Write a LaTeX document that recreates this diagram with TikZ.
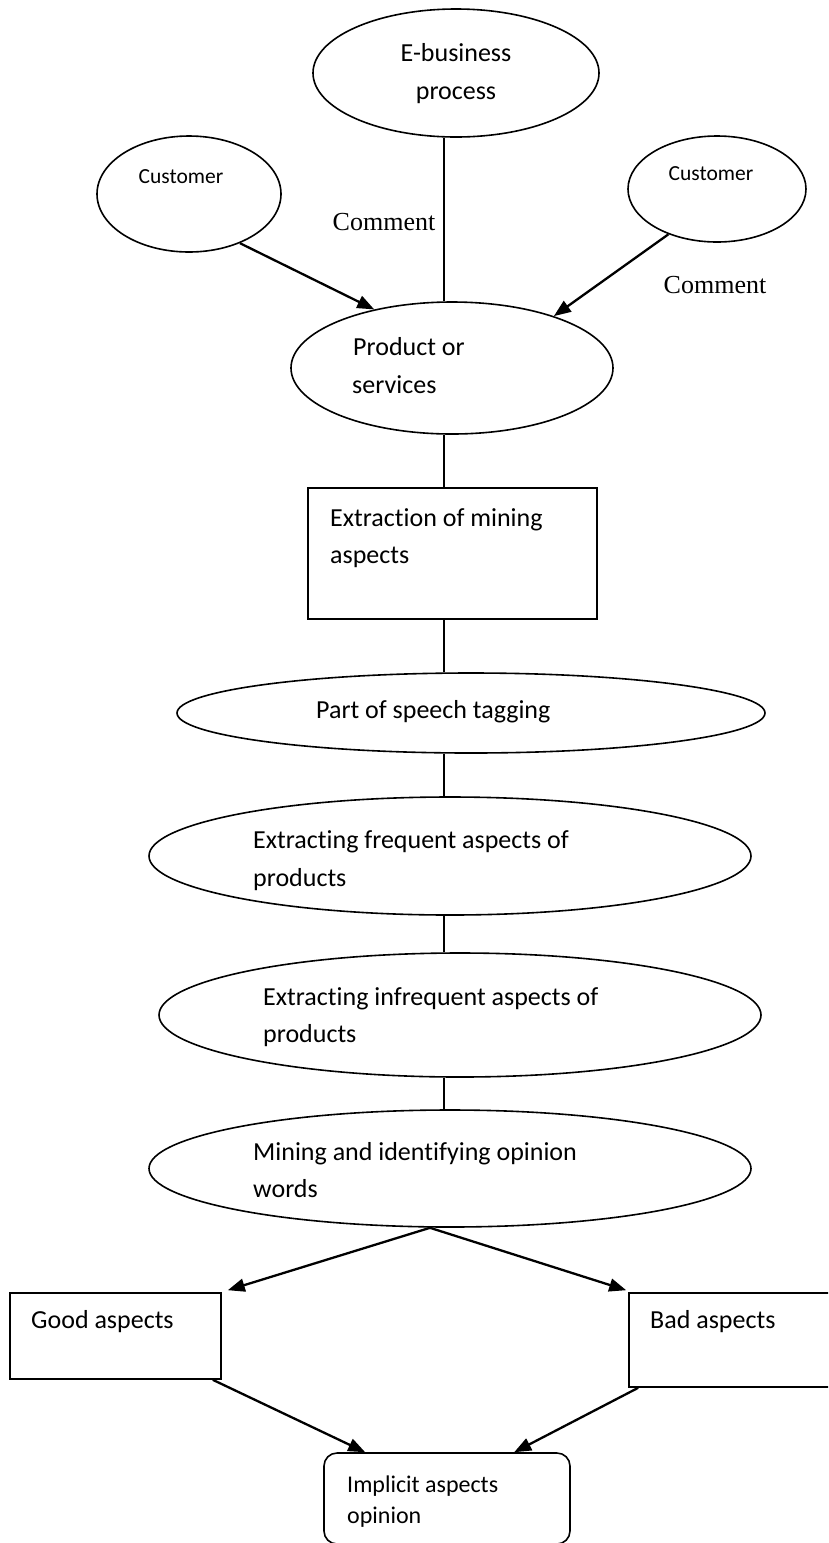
\documentclass[tikz,border=0pt]{standalone}
\usepackage{fontspec}
\setmainfont{Carlito}[Ligatures=NoCommon]
\newfontfamily\cmtfont{Liberation Serif}
\usetikzlibrary{shapes.geometric,arrows.meta,calc}
\begin{document}
\begin{tikzpicture}[x=1pt,y=-1pt,
  shp/.style={draw=black, line width=1.6pt, inner sep=0pt},
  ell/.style={shp, ellipse},
  box/.style={shp, rectangle},
  conn/.style={draw=black, line width=1.3pt},
  arr/.style={draw=black, line width=2.3pt, -{Triangle[length=17pt,width=13pt]}},
  lbl/.style={inner sep=0pt, anchor=base west, font=\fontsize{26}{31}\selectfont},
  clbl/.style={inner sep=0pt, anchor=base, font=\fontsize{26}{31}\selectfont},
  cust/.style={inner sep=0pt, anchor=base, font=\fontsize{21.5}{26}\selectfont},
  cmt/.style={inner sep=0pt, anchor=base, font=\cmtfont\fontsize{26}{31}\selectfont},
  small/.style={inner sep=0pt, anchor=base west, font=\fontsize{24}{29}\selectfont}]
\useasboundingbox (0,0) rectangle (828,1543);
\clip (0,0) rectangle (828,1543);
\fill[white] (0,0) rectangle (828,1543);

% shapes
\node[ell, minimum width=286pt, minimum height=128pt] (eb) at (456,73) {};
\node[ell, minimum width=184pt, minimum height=116pt] (lc) at (189,194) {};
\node[ell, minimum width=178pt, minimum height=106pt] (rc) at (717,189) {};
\node[ell, minimum width=322pt, minimum height=132pt] (pr) at (452,368) {};
\node[box, minimum width=289pt, minimum height=131pt] (ex) at (452.5,553.5) {};
\node[ell, minimum width=588pt, minimum height=80pt] (ps) at (471,713) {};
\node[ell, minimum width=602pt, minimum height=118pt] (fr) at (450,856) {};
\node[ell, minimum width=602pt, minimum height=124pt] (inf) at (460,1015) {};
\node[ell, minimum width=602pt, minimum height=117pt] (mi) at (450,1168.5) {};
\node[box, minimum width=211pt, minimum height=86pt] (gd) at (115.5,1336) {};
\node[box, minimum width=211pt, minimum height=94pt] (bd) at (734.5,1340) {};
\node[box, rounded corners=13pt, minimum width=246pt, minimum height=91pt] (im) at (447,1498.5) {};

% texts
\node[clbl] (t1a) at (456,61) {E-business};
\node[clbl] (t1b) at (456,99) {process};
\node[cust] (t2) at (181,183) {Customer};
\node[cust] (t3) at (711,180) {Customer};
\node[cmt] (c1) at (384,230) {Comment};
\node[cmt] (c2) at (715,293) {Comment};
\node[lbl] (t4a) at (353,355) {Product or};
\node[lbl] (t4b) at (352,393) {services};
\node[lbl] (t5a) at (330,526) {Extraction of mining};
\node[lbl] (t5b) at (330,563) {aspects};
\node[lbl] (t6) at (316,718) {Part of speech tagging};
\node[lbl] (t7a) at (253,848) {Extracting frequent aspects of};
\node[lbl] (t7b) at (253,886) {products};
\node[lbl] (t8a) at (263,1005) {Extracting infrequent aspects of};
\node[lbl] (t8b) at (263,1042) {products};
\node[lbl] (t9a) at (253,1160) {Mining and identifying opinion};
\node[lbl] (t9b) at (253,1197) {words};
\node[lbl] (t10) at (31,1328) {Good aspects};
\node[lbl] (t11) at (650,1328) {Bad aspects};
\node[small] (t12a) at (347,1492) {Implicit aspects};
\node[small] (t12b) at (347,1523) {opinion};

% spine connectors
\coordinate (spine) at (444,0);
\draw[conn] (spine |- eb.south) -- (spine |- pr.north);
\draw[conn] (spine |- pr.south) -- (spine |- ex.north);
\draw[conn] (spine |- ex.south) -- (spine |- ps.north);
\draw[conn] (spine |- ps.south) -- (spine |- fr.north);
\draw[conn] (spine |- fr.south) -- (spine |- inf.north);
\draw[conn] (spine |- inf.south) -- (spine |- mi.north);

% arrows
\draw[arr] (lc.-44) -- (pr.143);
\draw[arr] (rc.223) -- (pr.27);
\coordinate (fork) at ($(mi.south)+(-20,0)$);
\draw[arr] (fork) -- ($(gd.north east)+(6,-2)$);
\draw[arr] (fork) -- ($(bd.north west)+(-2,-2)$);
\draw[arr] ($(gd.south east)+(-9,0)$) -- ($(im.north west)+(42,0)$);
\draw[arr] ($(bd.south west)+(10,0)$) -- ($(im.north west)+(191,0)$);
\end{tikzpicture}
\end{document}
